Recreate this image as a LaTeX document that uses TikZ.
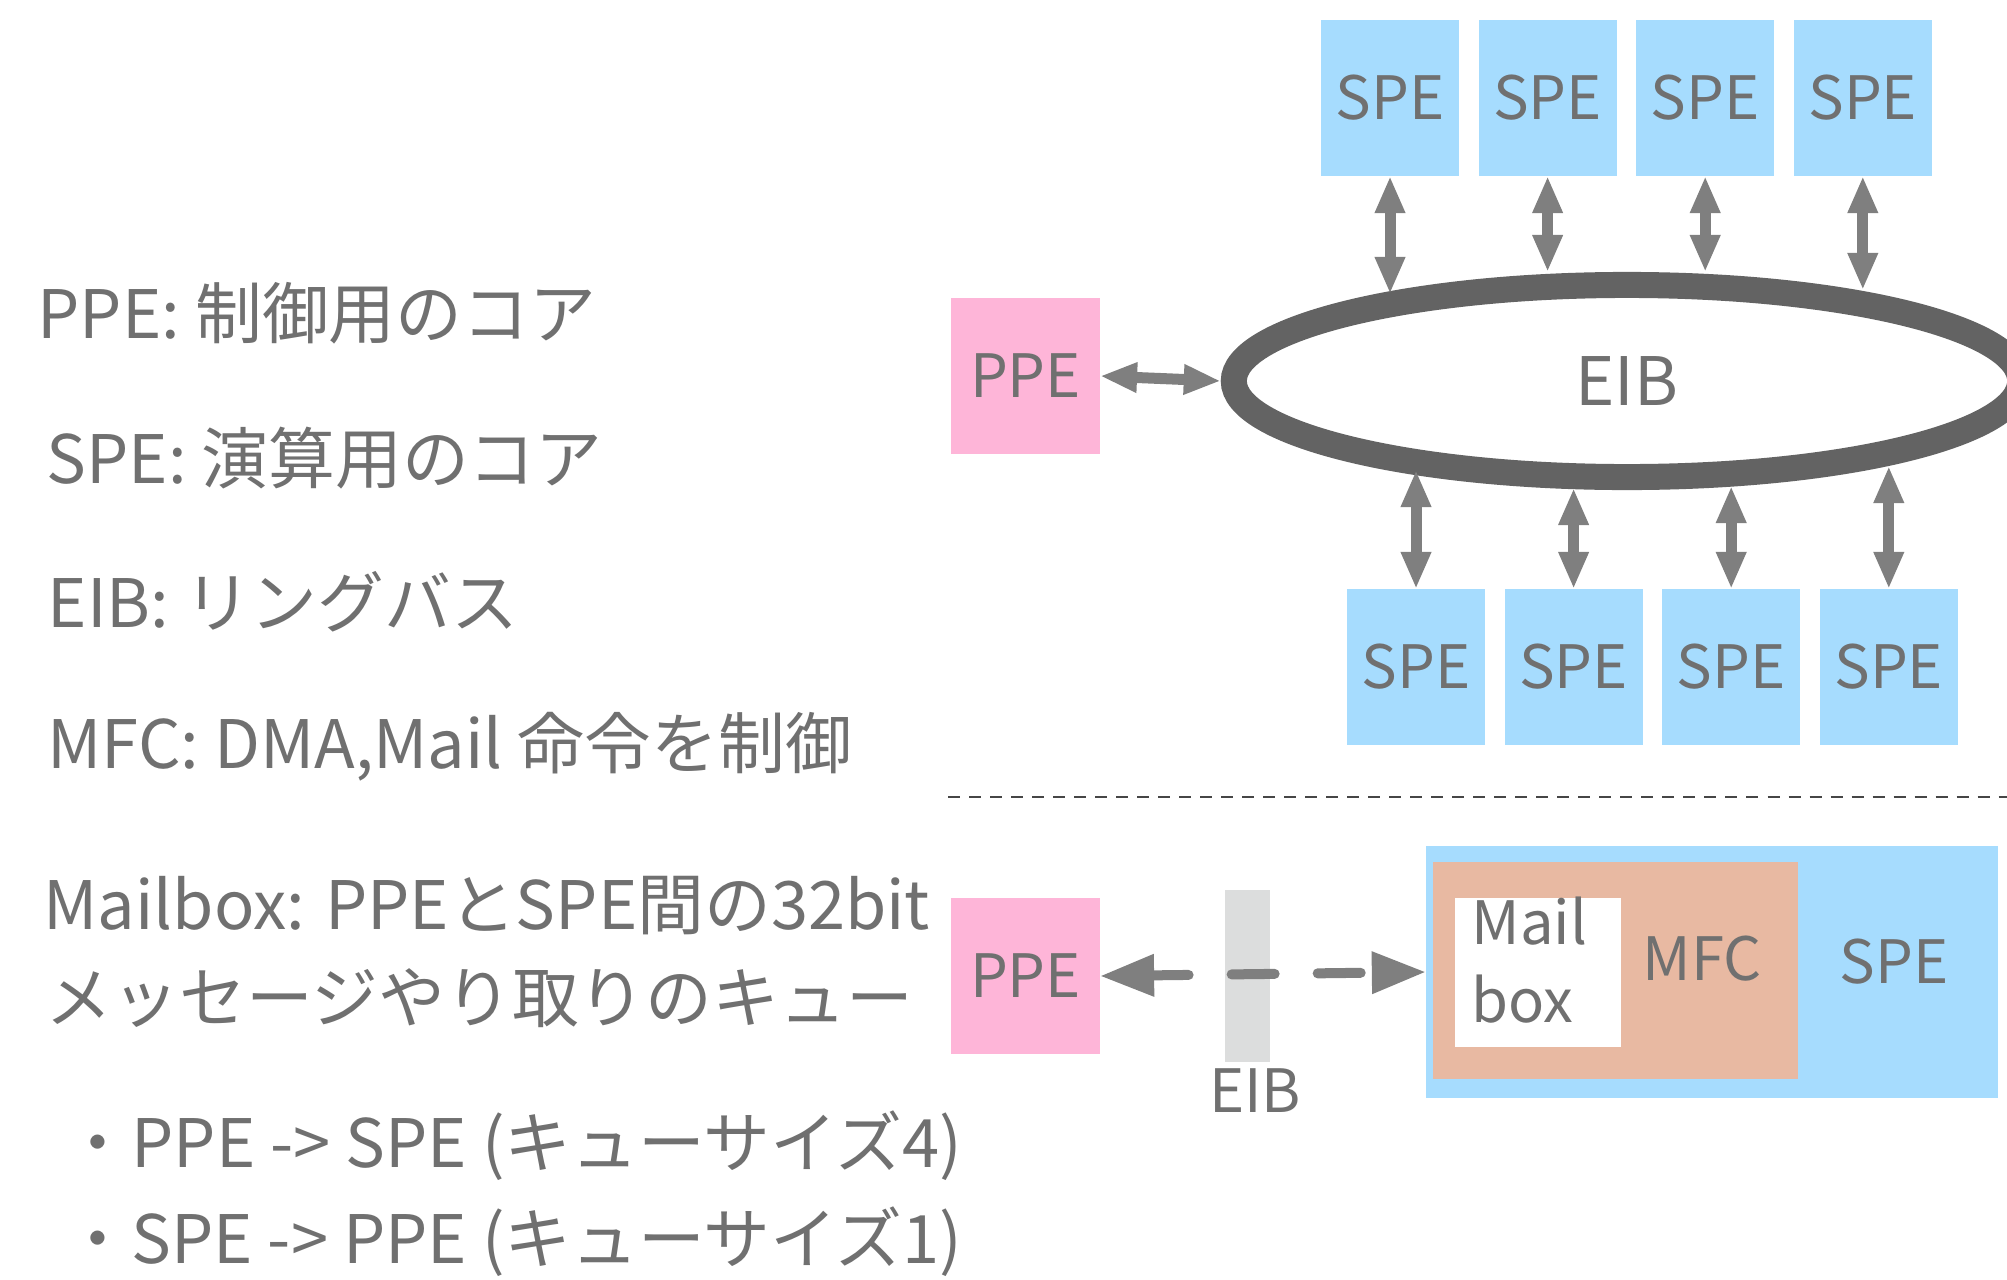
\documentclass[tikz,border=0pt]{standalone}
\usepackage{fontspec}
\setmainfont{Noto Sans CJK JP}
\usetikzlibrary{shapes.geometric, arrows.meta, positioning, chains}
\definecolor{speblue}{RGB}{166,220,254}
\definecolor{ppepink}{RGB}{254,181,216}
\definecolor{mfccol}{RGB}{232,185,162}
\definecolor{bargray}{RGB}{220,221,221}
\definecolor{ringgray}{RGB}{99,99,99}
\definecolor{arrowgray}{RGB}{127,127,127}
\definecolor{textgray}{RGB}{112,112,112}
\definecolor{sepgray}{RGB}{70,70,70}
\tikzstyle{arrow} = [line width=1.1mm, draw=arrowgray, <->, >={Triangle[length=3.7mm, width=2.8mm]}]
\tikzstyle{dasharrow} = [arrow, line width=1mm, line cap=round, dash pattern=on 4.3mm off 4.3mm, dash phase=0.6mm, >={Triangle[length=5.4mm, width=4mm]}]
\tikzstyle{core} = [rectangle, minimum width=1.38cm, minimum height=1.56cm, inner sep=0pt, outer sep=0pt, text=textgray, font=\fontsize{17pt}{20pt}\selectfont]
\tikzstyle{ring} = [ellipse, draw=ringgray, line width=2.6mm, minimum width=7.86cm, minimum height=1.92cm, inner sep=0pt, text=textgray, font=\fontsize{19pt}{22pt}\selectfont]

\begin{document}
\begin{tikzpicture}[x=0.01cm, y=-0.01cm,
        start chain=top going right,
        start chain=bot going right,
        node distance=1.95mm,
        desc/.style={anchor=base west, inner sep=0pt, text=textgray, font=\fontsize{19pt}{22pt}\selectfont},
        txt/.style={inner sep=0pt, text=textgray, font=\fontsize{17pt}{20pt}\selectfont},
        busbar/.style={rectangle, fill=bargray, minimum width=0.45cm, minimum height=1.72cm, inner sep=0pt, outer sep=0pt},
        sepline/.style={draw=sepgray, line width=0.2mm, dash pattern=on 1.2mm off 0.9mm}]
    \useasboundingbox (0,0) rectangle (2007,1279);

    \node [desc] (d1) at (37,338) {PPE: 制御用のコア};
    \node [desc] (d2) at (46,483) {SPE: 演算用のコア};
    \node [desc] (d3) at (47,627) {EIB: リングバス};
    \node [desc] (d4) at (47,768) {MFC: DMA,Mail 命令を制御};
    \node [desc] (d5) at (43,929) {Mailbox: PPEとSPE間の32bit};
    \node [desc] (d6) at (45,1022) {メッセージやり取りのキュー};
    \node [desc] (d7) at (64,1167) {・PPE -> SPE (キューサイズ4)};
    \node [desc] (d8) at (64,1263) {・SPE -> PPE (キューサイズ1)};

    \node [on chain=top, core, fill=speblue] (spe1) at (1390,98) {SPE};
    \node [on chain=top, core, fill=speblue] (spe2) {SPE};
    \node [on chain=top, core, fill=speblue] (spe3) {SPE};
    \node [on chain=top, core, fill=speblue] (spe4) {SPE};

    \node [on chain=bot, core, fill=speblue] (spe5) at (1416,667) {SPE};
    \node [on chain=bot, core, fill=speblue] (spe6) {SPE};
    \node [on chain=bot, core, fill=speblue] (spe7) {SPE};
    \node [on chain=bot, core, fill=speblue] (spe8) {SPE};

    \node [core, fill=ppepink, minimum width=1.49cm] (ppeA) at (1025.5,376) {PPE};
    \node [ring] (eib) at (1627,381) {EIB};

    \coordinate (ringT1) at (spe1 |- 0,294);
    \coordinate (ringT2) at (spe2 |- 0,272);
    \coordinate (ringT3) at (spe3 |- 0,272);
    \coordinate (ringT4) at (spe4 |- 0,290);
    \coordinate (ringB1) at (spe5 |- 0,470);
    \coordinate (ringB2) at (spe6 |- 0,488);
    \coordinate (ringB3) at (spe7 |- 0,486);
    \coordinate (ringB4) at (spe8 |- 0,466);

    \draw[arrow] (ppeA.east) -- (eib.west);
    \draw[arrow] (spe1.south) -- (ringT1);
    \draw[arrow] (spe2.south) -- (ringT2);
    \draw[arrow] (spe3.south) -- (ringT3);
    \draw[arrow] (spe4.south) -- (ringT4);
    \draw[arrow] (ringB1) -- (spe5.north);
    \draw[arrow] (ringB2) -- (spe6.north);
    \draw[arrow] (ringB3) -- (spe7.north);
    \draw[arrow] (ringB4) -- (spe8.north);

    \coordinate (sepL) at (948,797);
    \coordinate (sepR) at (2007,797);
    \draw[sepline] (sepL) -- (sepR);

    \node [core, fill=ppepink, minimum width=1.49cm] (ppeB) at (1025.5,976) {PPE};
    \node [busbar] (bar) at (1247.5,976) {};
    \node [txt] (barlabel) at (1255,1091) {EIB};
    \node [core, fill=speblue, minimum width=5.72cm, minimum height=2.52cm] (spebox) at (1712,972) {};
    \node [core, fill=mfccol, minimum width=3.65cm, minimum height=2.17cm] (mfc) at (1615.5,970.5) {};
    \node [core, fill=white, minimum width=1.66cm, minimum height=1.49cm] (mbox) at (1538,972.5) {};
    \node [txt, anchor=base west] (mailA) at (1471,944) {Mail};
    \node [txt, anchor=base west] (mailB) at (1471,1022) {box};
    \node [txt] (mfclabel) at (1702,959) {MFC};
    \node [txt] (spelabel) at (1894,962) {SPE};

    \draw[dasharrow] (ppeB.east) -- (spebox.west);
\end{tikzpicture}
\end{document}
